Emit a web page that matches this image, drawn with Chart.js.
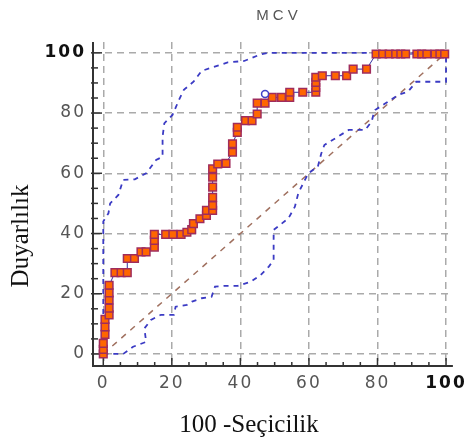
<!DOCTYPE html>
<html><head><meta charset="utf-8">
<script src="https://cdn.jsdelivr.net/npm/chart.js@4/dist/chart.umd.min.js"></script>
<style>html,body{margin:0;padding:0;background:#fff}#wrap{width:471px;height:447px;position:relative}</style>
</head><body><div id="wrap"><canvas id="c"></canvas></div>
<script>
const titleText = 'MCV';
const xTitle = '100 -Seçicilik';
const yTitle = 'Duyarlılık';
const xTicks = [0, 20, 40, 60, 80, 100];
const yTicks = [0, 20, 40, 60, 80, 100];
const minorStep = 5;

// ROC curve points (100-Specificity, Sensitivity)
const rocX = [0, 0, 0, 0.5, 0.5, 0.5, 1.7, 1.7, 1.7, 1.7, 1.7, 3.4, 5.2, 7, 7, 9.1, 11, 12.5, 14.9, 14.9, 14.9, 18.2, 20.3, 22.7, 24.4, 25.8, 26.3, 28.2, 30.1, 30.1, 31.9, 31.9, 31.9, 31.9, 31.9, 31.9, 33.4, 35.8, 37.7, 37.7, 39.1, 39.1, 41.5, 43.4, 44.9, 44.9, 47.2, 49.3, 52, 54.4, 54.4, 58.2, 62, 62, 62, 62, 63.9, 67.7, 71, 72.9, 76.8, 79.6, 81.5, 83.4, 85.3, 86.8, 88.2, 91.5, 92.9, 94.4, 96.8, 98.2, 99.6];
const rocY = [0, 1.5, 3.5, 6.5, 9, 11.5, 13, 15.2, 17.9, 20.3, 22.8, 27, 27, 27, 31.7, 31.7, 33.9, 33.9, 35.5, 37.7, 39.7, 39.7, 39.7, 39.7, 40.4, 41.3, 43.3, 44.9, 46, 47.7, 47.7, 49.3, 52, 55.4, 58.7, 61.5, 63.1, 63.3, 67, 69.8, 73.6, 75.3, 77.5, 77.5, 79.7, 83.3, 83.3, 85.2, 85.2, 85.2, 86.9, 86.9, 86.9, 88.5, 90.2, 91.9, 92.4, 92.4, 92.4, 94.6, 94.6, 99.6, 99.6, 99.6, 99.6, 99.6, 99.6, 99.6, 99.6, 99.6, 99.6, 99.6, 99.6];

// Upper 95% confidence bound
const upperX = [0, 0, 1.5, 2, 4.4, 5.8, 9.2, 12.5, 15.4, 17.3, 17.3, 17.8, 20.2, 22.1, 23.5, 26.4, 28.7, 31.6, 36.3, 41.1, 45.9, 48, 100];
const upperY = [0, 44, 46.7, 50, 52.8, 57.8, 58, 60, 64.4, 65.5, 72.1, 76.6, 79.4, 84.4, 87.7, 90.5, 94, 95.1, 96.8, 97.3, 99.5, 100, 100];

// Lower 95% confidence bound
const lowerX = [0, 5.8, 8.7, 12.5, 12, 13.9, 16.8, 20.6, 21.1, 24.4, 25.9, 28.7, 31.6, 32.6, 35.4, 39.2, 43, 45.9, 48.3, 49.7, 49.7, 49.7, 51.6, 54, 55.9, 56.9, 59.8, 62.6, 63.6, 64.5, 67.8, 71.6, 76.4, 78.3, 78.8, 79.3, 82, 86, 88.9, 91.3, 100, 100];
const lowerY = [0, 0, 2.4, 4, 8.5, 11.3, 13, 13, 15.7, 16.3, 17.4, 18.5, 19, 22.4, 22.6, 22.6, 24, 26.2, 29, 31.2, 36.8, 41.2, 42.9, 45, 48.9, 53.4, 60, 62.2, 66.6, 69.4, 71.7, 74.4, 74.4, 77.2, 79.4, 81, 83, 86, 87.1, 90.4, 90.4, 100];

// Reference diagonal
const diagX = [0, 100];
const diagY = [0, 100];

// Optimal criterion point
const cutX = [47.2];
const cutY = [86.3];

const pts = (xs, ys) => xs.map((x, i) => ({ x: x, y: ys[i] }));

const decor = {
  id: 'decor',
  beforeDraw(chart) { chart.ctx.letterSpacing = '2px'; },
  beforeDatasetsDraw(chart) {
    const { ctx, chartArea: a, scales: { x, y } } = chart;
    ctx.letterSpacing = '0px';
    ctx.save();
    ctx.strokeStyle = '#333';
    ctx.lineWidth = 2;
    ctx.beginPath();
    ctx.moveTo(a.left, a.top);
    ctx.lineTo(a.left, a.bottom);
    ctx.lineTo(a.right, a.bottom);
    ctx.stroke();
    ctx.lineWidth = 1.5;
    for (let v = xTicks[0]; v <= xTicks[xTicks.length - 1]; v += minorStep) {
      const major = xTicks.includes(v);
      const px = x.getPixelForValue(v);
      ctx.beginPath(); ctx.moveTo(px, a.bottom); ctx.lineTo(px, a.bottom - (major ? 8 : 4)); ctx.stroke();
    }
    for (let v = yTicks[0]; v <= yTicks[yTicks.length - 1]; v += minorStep) {
      const major = yTicks.includes(v);
      const py = y.getPixelForValue(v);
      ctx.beginPath(); ctx.moveTo(a.left - 2, py); ctx.lineTo(a.left + (major ? 9 : 5), py); ctx.stroke();
    }
    ctx.restore();
  },
  afterDraw(chart) {
    const { ctx } = chart;
    ctx.save();
    ctx.letterSpacing = '4px';
    ctx.fillStyle = '#555';
    ctx.font = '15px "Liberation Sans"';
    ctx.textAlign = 'center';
    ctx.textBaseline = 'middle';
    ctx.fillText(titleText, 279, 16);
    ctx.letterSpacing = '0px';
    ctx.fillStyle = '#111';
    ctx.font = '25px "Liberation Serif"';
    ctx.textBaseline = 'alphabetic';
    ctx.fillText(xTitle, 249, 432);
    ctx.translate(28, 236);
    ctx.rotate(-Math.PI / 2);
    ctx.fillText(yTitle, 0, 0);
    ctx.restore();
  }
};

const tickFont = c => (c.tick && c.tick.value === 100)
  ? { family: 'DejaVu Sans', size: 17, weight: 'bold' }
  : { family: 'DejaVu Sans', size: 17 };
const tickColor = c => (c.tick && c.tick.value === 100) ? '#111' : '#555';

new Chart(document.getElementById('c'), {
  type: 'scatter',
  data: {
    datasets: [
      { data: pts(cutX, cutY), showLine: false, pointStyle: 'circle', pointRadius: 3.5, pointBorderWidth: 1.5, pointBorderColor: '#4040C8', pointBackgroundColor: '#fff', order: 0 },
      { data: pts(rocX, rocY), showLine: true, borderColor: '#3030A0', borderWidth: 1, pointStyle: 'rect', pointRadius: 5.4, pointBackgroundColor: '#FF6600', pointBorderColor: '#A02C5C', pointBorderWidth: 1.5, order: 1 },
      { data: pts(upperX, upperY), showLine: true, borderColor: '#3B3BC4', borderWidth: 1.8, borderDash: [5, 5], pointRadius: 0, order: 2 },
      { data: pts(lowerX, lowerY), showLine: true, borderColor: '#3B3BC4', borderWidth: 1.8, borderDash: [5, 5], pointRadius: 0, order: 3 },
      { data: pts(diagX, diagY), showLine: true, borderColor: '#A0705F', borderWidth: 1.5, borderDash: [6, 6], pointRadius: 0, order: 4 }
    ]
  },
  options: {
    animation: false,
    responsive: true,
    maintainAspectRatio: false,
    layout: { padding: { top: 42, right: 11.5, bottom: 0, left: 0 } },
    plugins: { legend: { display: false }, tooltip: { enabled: false }, title: { display: false } },
    scales: {
      x: {
        type: 'linear', min: -3, max: 102,
        afterBuildTicks: s => { s.ticks = xTicks.map(v => ({ value: v })); },
        afterFit: s => { s.height = 81; },
        grid: { color: '#AAAAAA', lineWidth: 1.5, drawTicks: false },
        border: { display: false, dash: [7, 5] },
        ticks: { padding: 7, font: tickFont, color: tickColor, maxRotation: 0 }
      },
      y: {
        type: 'linear', min: -4, max: 103.6,
        afterBuildTicks: s => { s.ticks = yTicks.map(v => ({ value: v })); },
        afterFit: s => { s.width = 93; },
        grid: { color: '#AAAAAA', lineWidth: 1.5, drawTicks: false },
        border: { display: false, dash: [7, 5] },
        ticks: { padding: 7, font: tickFont, color: tickColor }
      }
    }
  },
  plugins: [decor]
});
</script>
</body></html>
